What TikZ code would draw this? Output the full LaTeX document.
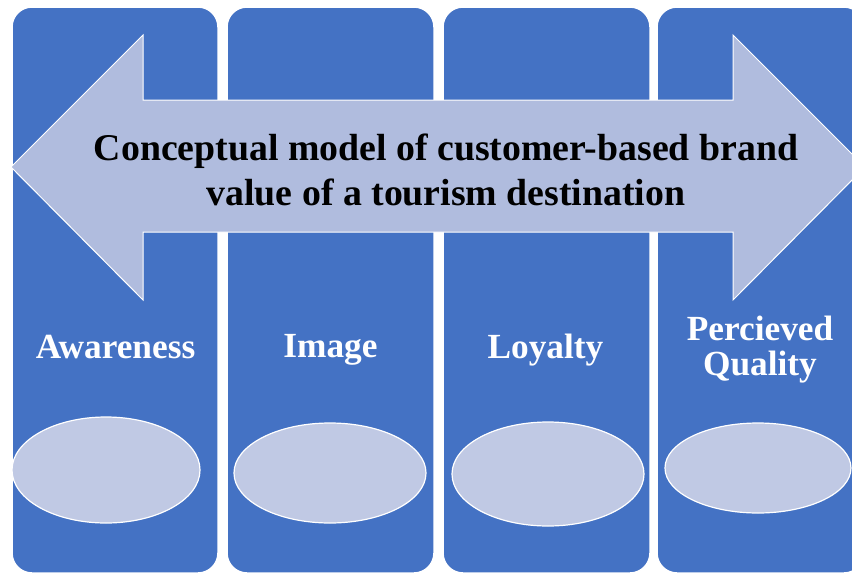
\documentclass[tikz,border=0pt]{standalone}
\usepackage{fontspec}
\setmainfont{Liberation Serif}
\usetikzlibrary{shapes.geometric}
\definecolor{colblue}{HTML}{4472C4}
\definecolor{arrowfill}{RGB}{176,188,222}
\definecolor{ellfill}{RGB}{192,201,228}
\begin{document}
\begin{tikzpicture}[x=1pt,y=-1pt,
  column/.style={fill=colblue,draw=white,line width=1.5pt,rounded corners=20pt},
  oval/.style={ellipse,fill=ellfill,draw=white,line width=1.2pt,inner sep=0pt},
  label/.style={text=white,font=\fontsize{35.3}{36}\selectfont\bfseries,anchor=base,inner sep=0pt},
  titletext/.style={text=black,font=\fontsize{37.8}{45}\selectfont\bfseries,anchor=base,inner sep=0pt}]
\useasboundingbox (0,0) rectangle (852,574);
\clip (0,0) rectangle (852,574);
\fill[white] (0,0) rectangle (852,574);
% columns
\draw[column] (12,7) rectangle (218,573);
\draw[column] (227,7) rectangle (434,573);
\draw[column] (443,7) rectangle (650,573);
\draw[column] (657,7) rectangle (864,573);
% double arrow
\draw[fill=arrowfill,draw=white,line width=1pt,line join=miter]
  (11,167) -- (143,35) -- (143,100) -- (733,100) -- (733,35) -- (865,167)
  -- (733,300) -- (733,232) -- (143,232) -- (143,300) -- cycle;
\node[titletext] (t1) at (446,160) {Conceptual model of customer-based brand};
\node[titletext] (t2) at (446,205) {value of a tourism destination};
% labels
\node[label] (l1) at (115.5,358) {Awareness};
\node[label] (l2) at (330.5,357) {Image};
\node[label] (l3) at (545.5,358) {Loyalty};
\node[label] (l4a) at (760,340) {Percieved};
\node[label] (l4b) at (760,375) {Quality};
% ellipses
\node[oval,minimum width=188pt,minimum height=106pt] (e1) at (106,470) {};
\node[oval,minimum width=192pt,minimum height=100pt] (e2) at (330,473) {};
\node[oval,minimum width=192pt,minimum height=104pt] (e3) at (548,474) {};
\node[oval,minimum width=186pt,minimum height=90pt] (e4) at (758,468) {};
\end{tikzpicture}
\end{document}
